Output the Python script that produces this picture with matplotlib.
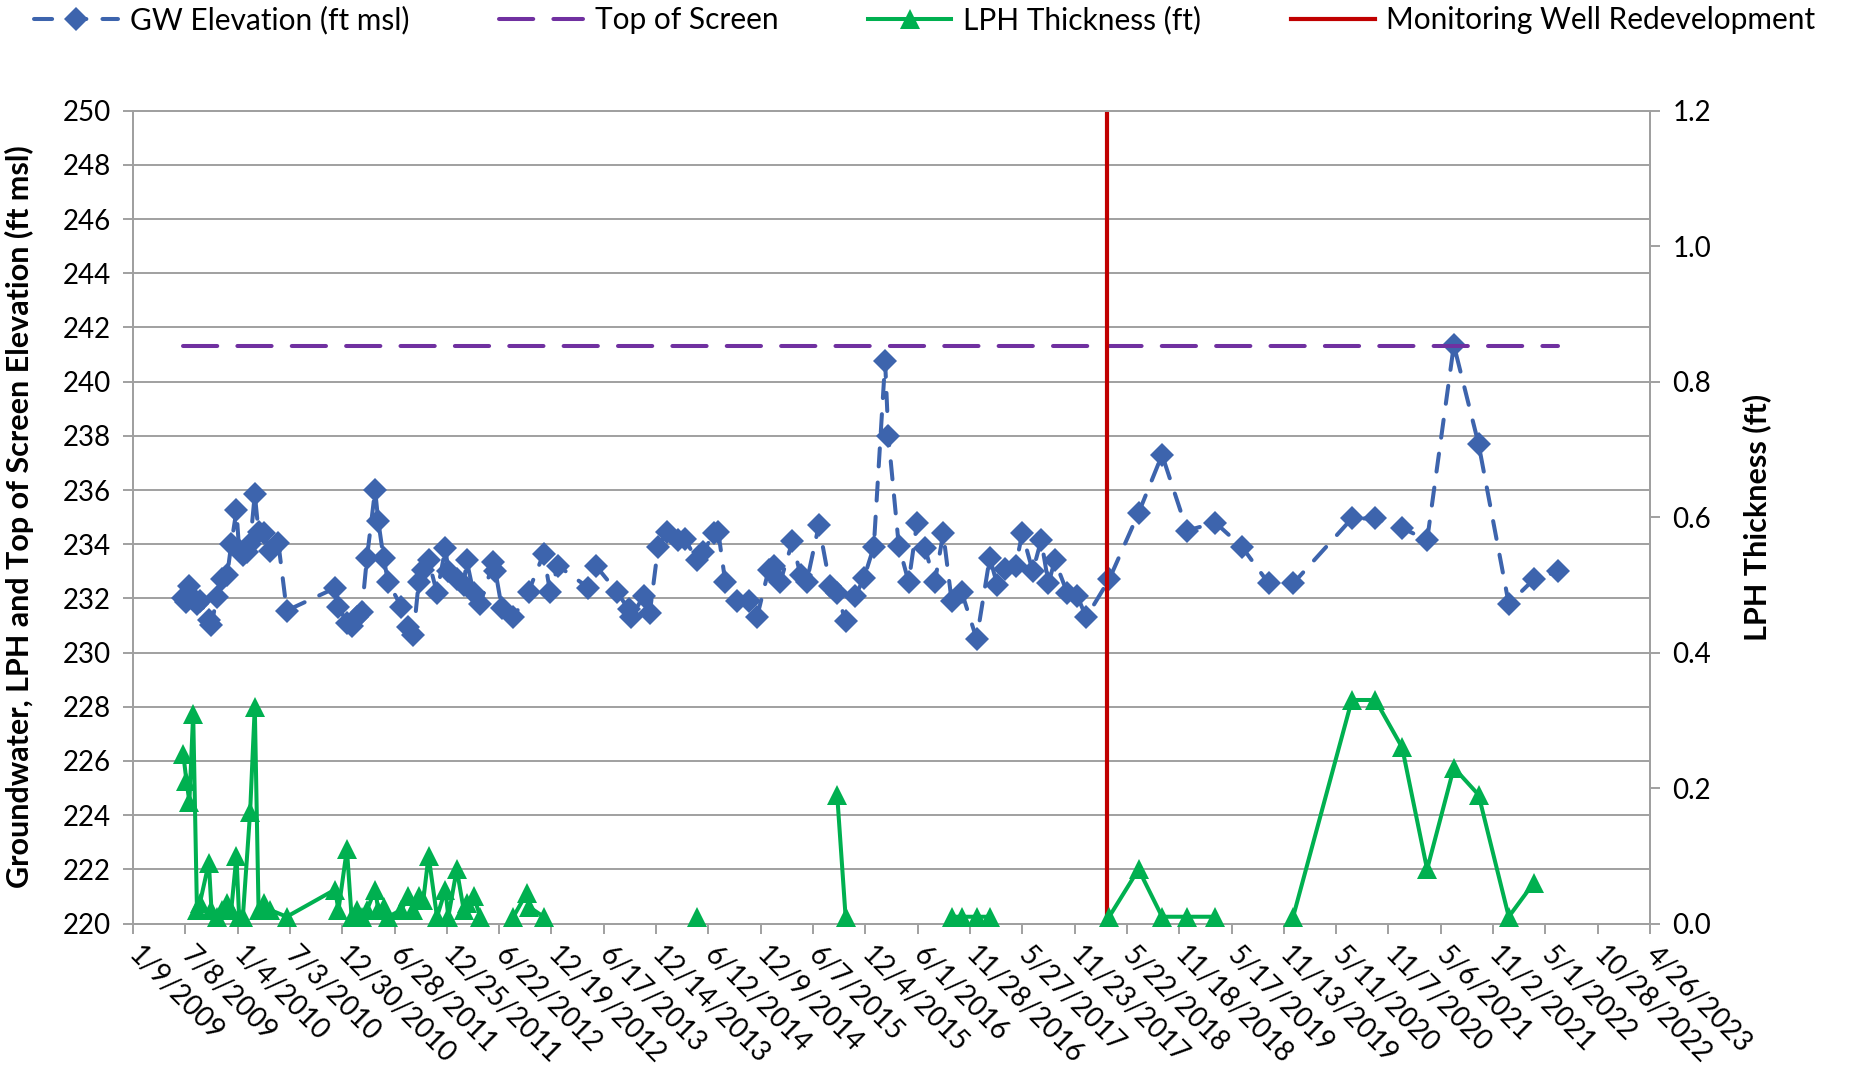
import matplotlib
matplotlib.use('Agg')
import matplotlib.pyplot as plt
from matplotlib.lines import Line2D
import numpy as np
import pandas as pd

plt.rcParams['font.family'] = ['Lato', 'DejaVu Sans']

# groundwater elevation (ft msl), one value per sampling date
gw_dates = [
    '2009-07-01', '2009-07-12', '2009-07-22', '2009-08-04', '2009-08-17', '2009-08-27',
    '2009-09-27', '2009-10-06', '2009-10-24', '2009-11-11', '2009-11-29', '2009-12-13',
    '2009-12-31', '2010-01-09', '2010-01-22', '2010-02-04', '2010-02-16', '2010-03-04',
    '2010-03-17', '2010-04-04', '2010-04-26', '2010-05-24', '2010-06-22',
    '2010-12-05', '2010-12-17', '2011-01-15', '2011-01-31', '2011-02-18', '2011-03-07',
    '2011-03-25', '2011-04-22', '2011-05-03', '2011-05-21', '2011-06-06', '2011-07-21',
    '2011-08-14', '2011-09-01', '2011-09-19', '2011-10-05', '2011-10-23', '2011-11-21',
    '2011-12-20', '2011-12-30', '2012-01-28', '2012-02-21', '2012-03-02', '2012-03-26',
    '2012-04-18', '2012-06-02', '2012-06-09', '2012-07-01', '2012-08-10', '2012-10-01',
    '2012-11-22', '2012-12-14', '2013-01-11',
    '2013-04-24', '2013-05-21', '2013-08-01', '2013-09-10', '2013-09-20', '2013-11-01',
    '2013-11-22', '2013-12-21', '2014-01-19', '2014-02-28', '2014-03-23', '2014-05-03',
    '2014-05-25', '2014-06-30', '2014-07-16', '2014-08-09', '2014-09-17', '2014-10-29',
    '2014-11-26', '2015-01-05', '2015-01-23', '2015-02-14', '2015-03-28', '2015-04-25',
    '2015-05-16', '2015-06-27', '2015-08-05', '2015-08-29', '2015-09-27', '2015-10-31',
    '2015-11-29', '2016-01-02', '2016-02-10', '2016-02-21', '2016-03-28', '2016-05-01',
    '2016-05-30', '2016-06-26', '2016-07-30', '2016-08-28', '2016-09-26', '2016-10-30',
    '2016-12-21', '2017-02-04', '2017-03-02', '2017-03-30', '2017-05-04', '2017-05-27',
    '2017-07-02', '2017-07-31', '2017-08-25', '2017-09-16', '2017-10-29', '2017-12-02',
    '2018-01-02',
    '2018-03-22', '2018-07-01', '2018-09-20', '2018-12-15', '2019-03-22', '2019-06-22',
    '2019-09-22', '2019-12-15', '2020-07-04', '2020-09-23', '2020-12-24', '2021-03-20',
    '2021-06-20', '2021-09-13', '2021-12-26', '2022-03-22', '2022-06-15',
]
gw_elev = [
    232.0, 231.85, 232.45, 232.0, 231.8, 231.9,
    231.2, 231.0, 232.05, 232.7, 232.85, 234.0,
    235.25, 233.8, 233.6, 233.7, 234.0, 235.85,
    234.45, 234.4, 233.75, 234.05, 231.55,
    232.38, 231.7, 231.1, 230.97, 231.3, 231.5,
    233.5, 236.0, 234.85, 233.5, 232.6, 231.7,
    230.95, 230.65, 232.6, 233.05, 233.4, 232.2,
    233.85, 233.0, 232.7, 232.5, 233.4, 232.2,
    231.8, 233.35, 233.0, 231.65, 231.3, 232.25,
    233.65, 232.25, 233.2,
    232.4, 233.2, 232.25, 231.6, 231.3, 232.1,
    231.45, 233.9, 234.45, 234.15, 234.2, 233.4,
    233.7, 234.4, 234.45, 232.6, 231.9, 231.9,
    231.3, 233.05, 233.2, 232.6, 234.1, 232.85,
    232.6, 234.7, 232.45, 232.2, 231.15, 232.1,
    232.75, 233.9, 240.75, 238.0, 233.95, 232.6,
    234.8, 233.85, 232.6, 234.4, 231.9, 232.25,
    230.5, 233.5, 232.5, 233.1, 233.2, 234.4,
    233.0, 234.15, 232.55, 233.4, 232.2, 232.1,
    231.3,
    232.7, 235.15, 237.3, 234.5, 234.8, 233.9,
    232.55, 232.55, 234.95, 234.95, 234.6, 234.15,
    241.35, 237.7, 231.8, 232.7, 233.0,
]

# LPH thickness (ft); None = no measurement (line break)
lph_dates = [
    '2009-07-01', '2009-07-12', '2009-07-22', '2009-08-04', '2009-08-17', '2009-08-27',
    '2009-09-27', '2009-10-06', '2009-10-24', '2009-11-11', '2009-11-29', '2009-12-13',
    '2009-12-31', '2010-01-09', '2010-01-22', '2010-02-16', '2010-03-04', '2010-03-17',
    '2010-04-04', '2010-04-26', '2010-06-22',
    '2010-12-05', '2010-12-17', '2011-01-15', '2011-01-31', '2011-02-18', '2011-03-07',
    '2011-03-25', '2011-04-22', '2011-05-03', '2011-05-21', '2011-06-06', '2011-07-21',
    '2011-08-14', '2011-09-01', '2011-09-19', '2011-10-05', '2011-10-23', '2011-11-21',
    '2011-12-20', '2011-12-30', '2012-01-28', '2012-02-21', '2012-03-02', '2012-03-26',
    '2012-04-18', '2012-06-02',
    '2012-08-10', '2012-09-25', '2012-10-01', '2012-11-22', '2013-01-11',
    '2014-05-03', '2014-05-25',
    '2015-08-29', '2015-09-27', '2015-10-31',
    '2016-09-26', '2016-10-30', '2016-12-21', '2017-02-04', '2017-03-02',
    '2018-03-22', '2018-07-01', '2018-09-20', '2018-12-15', '2019-03-22', '2019-06-22',
    '2019-12-15', '2020-07-04', '2020-09-23', '2020-12-24', '2021-03-20', '2021-06-20',
    '2021-09-13', '2021-12-26', '2022-03-22',
]
lph_thick = [
    0.25, 0.21, 0.18, 0.31, 0.02, 0.03,
    0.09, 0.02, 0.01, 0.02, 0.03, 0.02,
    0.10, 0.01, 0.01, 0.165, 0.32, 0.02,
    0.03, 0.02, 0.01,
    0.05, 0.02, 0.11, 0.01, 0.02, 0.01,
    0.02, 0.05, 0.02, 0.025, 0.01, 0.02,
    0.04, 0.02, 0.04, 0.035, 0.10, 0.01,
    0.05, 0.01, 0.08, 0.02, 0.03, 0.04,
    0.01, None,
    0.01, 0.045, 0.025, 0.01, None,
    0.01, None,
    0.19, 0.01, None,
    0.01, 0.01, 0.01, 0.01, None,
    0.01, 0.08, 0.01, 0.01, 0.01, None,
    0.01, 0.33, 0.33, 0.26, 0.08, 0.23,
    0.19, 0.01, 0.06,
]

top_of_screen = 241.3
redevelopment_date = '2018-03-15'

gw_x = pd.to_datetime(gw_dates)
lph_x = pd.to_datetime(lph_dates)
lph_y = np.array([np.nan if v is None else v for v in lph_thick])

fig = plt.figure(figsize=(18.5, 10.79), dpi=100)
ax = fig.add_axes([0.0719, 0.1441, 0.82, 0.7533])
ax2 = ax.twinx()

gw_col = '#3D64AD'
lph_col = '#00B050'
scr_col = '#7030A0'
red_col = '#C00000'
grid_col = '#A0A0A0'

ax.plot(gw_x, gw_elev, color=gw_col, lw=2.9, dashes=(4.5, 4), dash_capstyle='round',
        marker='D', ms=12, mec=gw_col, mfc=gw_col, mew=0, zorder=3)
ax.plot([gw_x[0], gw_x[-1]], [top_of_screen, top_of_screen], color=scr_col, lw=2.9,
        dashes=(8.5, 5), dash_capstyle='round', zorder=4)
ax.axvline(pd.Timestamp(redevelopment_date), color=red_col, lw=3, zorder=5)

ax2.plot(lph_x, lph_y, color=lph_col, lw=2.9, marker='^', ms=14, mew=0,
         mfc=lph_col, clip_on=False, zorder=6)

# axes limits and ticks
x0 = pd.Timestamp('2009-01-09')
x1 = pd.Timestamp('2023-04-26')
ticks = pd.date_range(x0, x1, freq='180D')
ax.set_xlim(x0, x1)
ax.set_ylim(220, 250)
ax.set_yticks(np.arange(220, 251, 2))
ax2.set_ylim(0, 1.2)
ax2.set_yticks(np.arange(0, 1.21, 0.2))
ax2.set_yticklabels([f'{v:.1f}' for v in np.arange(0, 1.21, 0.2)])
ax.set_xticks(ticks)
ax.set_xticklabels([f'{d.month}/{d.day}/{d.year}' for d in ticks],
                   rotation=-45, ha='left', va='center', rotation_mode='anchor')

ax.grid(axis='y', color=grid_col, lw=1.4)
ax.grid(axis='x', visible=False)
ax.set_axisbelow(True)
for a in (ax, ax2):
    for s in a.spines.values():
        s.set_color(grid_col)
        s.set_linewidth(1.4)
ax.tick_params(axis='both', colors=grid_col, length=7, width=1.4, labelcolor='black',
               labelsize=20)
ax.tick_params(axis='x', pad=13)
ax.tick_params(axis='y', pad=9)
ax2.tick_params(axis='y', colors=grid_col, length=7, width=1.4, labelcolor='black',
                labelsize=20, pad=9)

ax.set_ylabel('Groundwater, LPH and Top of Screen Elevation (ft msl)', fontsize=22,
              fontweight='bold')
ax.yaxis.set_label_coords(-0.065, 0.5)
ax2.set_ylabel('LPH Thickness (ft)', fontsize=22, fontweight='bold')
ax2.yaxis.set_label_coords(1.061, 0.5)

handles = [
    Line2D([], [], color=gw_col, lw=2.9, dashes=(4.5, 4), dash_capstyle='round',
           marker='D', ms=12, mew=0),
    Line2D([], [], color=scr_col, lw=2.9, dashes=(8.5, 5), dash_capstyle='round'),
    Line2D([], [], color=lph_col, lw=2.9, marker='^', ms=14, mew=0),
    Line2D([], [], color=red_col, lw=3),
]
labels = ['GW Elevation (ft msl)', 'Top of Screen', 'LPH Thickness (ft)',
          'Monitoring Well Redevelopment']
fig.legend(handles, labels, loc='upper center', bbox_to_anchor=(0.5, 1.02), ncol=4,
           frameon=False, fontsize=21.5, handlelength=2.8, columnspacing=3.0,
           handletextpad=0.4, numpoints=1)

fig.savefig('out.png', dpi=100)
